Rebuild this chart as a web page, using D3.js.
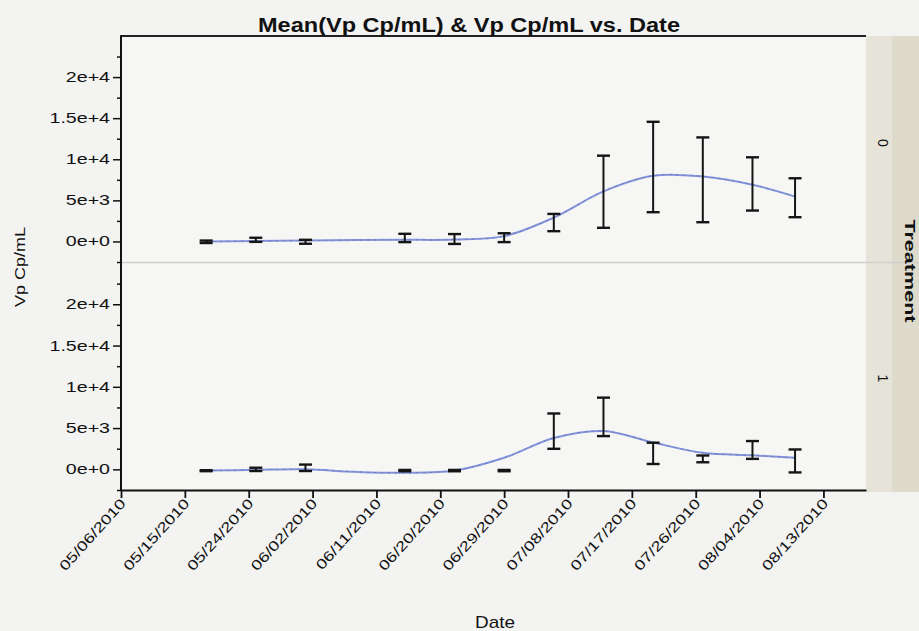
<!DOCTYPE html>
<html>
<head>
<meta charset="utf-8">
<script src="https://cdn.jsdelivr.net/npm/d3@7/dist/d3.min.js"></script>
<style>
  body { margin: 0; background: #f3f3f1; }
  text { font-family: "Liberation Sans", Arial, Helvetica, sans-serif; fill: #111; }
</style>
</head>
<body>
<svg id="chart" width="919" height="631"></svg>
<script>
// Sampling dates (weekly visits)
const sampleDates = ["2010-05-18", "2010-05-25", "2010-06-01", "2010-06-15", "2010-06-22", "2010-06-29",
                     "2010-07-06", "2010-07-13", "2010-07-20", "2010-07-27", "2010-08-03", "2010-08-09"];

// Treatment 0: mean Vp Cp/mL and error half-width
const mean0 = [-40, 200, -40, 425, 300, 460, 2300, 6050, 9060, 7500, 7000, 5320];
const err0  = [150, 250, 240, 505, 600, 540, 1050, 4390, 5500, 5160, 3240, 2370];

// Treatment 1: mean Vp Cp/mL and error half-width
const mean1 = [-160, 0, 190, -150, -150, -150, 4630, 6360, 1940, 1270, 2350, 1020];
const err1  = [60, 200, 390, 80, 80, 80, 2140, 2330, 1290, 410, 1080, 1390];

// Smoother fitted through the raw values, read at weekly knots
const smoothDates = ["2010-05-18", "2010-05-25", "2010-06-01", "2010-06-08", "2010-06-15", "2010-06-22", "2010-06-29",
                     "2010-07-06", "2010-07-13", "2010-07-20", "2010-07-27", "2010-08-03", "2010-08-09"];
const smooth0 = [0, 60, 120, 170, 200, 230, 650, 2900, 6100, 8000, 7900, 6900, 5450];
const smooth1 = [-150, -60, 0, -300, -420, -150, 1400, 3800, 4650, 3250, 2000, 1700, 1400];

// Axis ticks
const xTickDates = ["2010-05-06", "2010-05-15", "2010-05-24", "2010-06-02", "2010-06-11", "2010-06-20",
                    "2010-06-29", "2010-07-08", "2010-07-17", "2010-07-26", "2010-08-04", "2010-08-13"];
const yMajorTicks = [0, 5000, 10000, 15000, 20000];
const yTickLabels = ["0e+0", "5e+3", "1e+4", "1.5e+4", "2e+4"];
const yMinorTicks = [-2500, 2500, 7500, 12500, 17500, 22500];
const panelLabels = ["0", "1"];

const parse = d3.timeParse("%Y-%m-%d");
const fmt = d3.timeFormat("%m/%d/%Y");

const svg = d3.select("#chart");
const W = 919, H = 631;
const plotL = 121, plotR = 866, plotT = 36, plotB = 490;
const panels = [
  { top: 36, bottom: 262, mean: mean0, err: err0, smooth: smooth0, label: panelLabels[0] },
  { top: 263, bottom: 490, mean: mean1, err: err1, smooth: smooth1, label: panelLabels[1] }
];

// stretch a text selection along its baseline
function stretch(sel, factor) {
  sel.each(function () {
    const w = this.getComputedTextLength();
    d3.select(this).attr("textLength", w * factor).attr("lengthAdjust", "spacingAndGlyphs");
  });
}

svg.append("rect").attr("width", W).attr("height", H).attr("fill", "#f3f3f1");
svg.append("rect").attr("x", plotL).attr("y", plotT).attr("width", plotR - plotL).attr("height", plotB - plotT)
  .attr("fill", "#f6f6f4");

// Treatment strip on the right
svg.append("rect").attr("x", plotR).attr("y", plotT).attr("width", W - plotR).attr("height", plotB - plotT + 2)
  .attr("fill", "#dedbcc");
svg.append("rect").attr("x", plotR).attr("y", plotT).attr("width", 26).attr("height", plotB - plotT + 2)
  .attr("fill", "#e6e4d9");

const x = d3.scaleTime()
  .domain([parse("2010-05-06"), parse("2010-08-19")])
  .range([plotL, plotR]);

// panel separator
svg.append("line").attr("x1", plotL).attr("x2", W).attr("y1", 262.5).attr("y2", 262.5)
  .attr("stroke", "#cfcfcb").attr("stroke-width", 1.5);

panels.forEach(p => {
  const y = d3.scaleLinear().domain([-2500, 25000]).range([p.bottom, p.top]);
  const g = svg.append("g");

  // smoother
  const pts = smoothDates.map((d, i) => [x(parse(d)), y(p.smooth[i])]);
  const line = d3.line().curve(d3.curveCatmullRom.alpha(0.5));
  g.append("path").attr("d", line(pts)).attr("fill", "none")
    .attr("stroke", "#8494da").attr("stroke-width", 2);
  g.append("path").attr("d", line(pts)).attr("fill", "none")
    .attr("stroke", "#5162a8").attr("stroke-width", 1).attr("stroke-dasharray", "2,5").attr("opacity", 0.55);

  // error bars
  const bars = g.selectAll("g.bar").data(sampleDates.map((d, i) => ({ date: parse(d), m: p.mean[i], e: p.err[i] })))
    .join("g").attr("class", "bar");
  bars.append("line")
    .attr("x1", d => x(d.date)).attr("x2", d => x(d.date))
    .attr("y1", d => y(d.m - d.e)).attr("y2", d => y(d.m + d.e))
    .attr("stroke", "#151515").attr("stroke-width", 2);
  [-1, 1].forEach(s => {
    bars.append("line")
      .attr("x1", d => x(d.date) - 6.5).attr("x2", d => x(d.date) + 6.5)
      .attr("y1", d => y(d.m + s * d.e)).attr("y2", d => y(d.m + s * d.e))
      .attr("stroke", "#151515").attr("stroke-width", 2.4);
  });

  // y axis: major + minor ticks
  const ax = svg.append("g").attr("transform", `translate(${plotL},0)`)
    .call(d3.axisLeft(y).tickValues(yMajorTicks).tickSize(8).tickPadding(3)
      .tickFormat((d, i) => yTickLabels[i]));
  ax.select(".domain").remove();
  ax.selectAll(".tick line").attr("stroke", "#111").attr("stroke-width", 1.5);
  ax.selectAll(".tick text").attr("font-size", 14).attr("fill", "#111")
    .attr("font-family", "'Liberation Sans', Arial, sans-serif");
  stretch(ax.selectAll(".tick text"), 1.4);

  const mx = svg.append("g").attr("transform", `translate(${plotL},0)`)
    .call(d3.axisLeft(y).tickValues(yMinorTicks).tickSize(4).tickFormat(""));
  mx.select(".domain").remove();
  mx.selectAll(".tick line").attr("stroke", "#111").attr("stroke-width", 1.5);

  // strip label
  const cy = (p.top + p.bottom) / 2 + (p === panels[0] ? -6 : 2);
  svg.append("text").attr("transform", `translate(878,${cy}) rotate(90)`)
    .attr("text-anchor", "middle").attr("font-size", 14).text(p.label);
});

// frame lines
svg.append("line").attr("x1", plotL - 1).attr("x2", plotR).attr("y1", plotT).attr("y2", plotT)
  .attr("stroke", "#222").attr("stroke-width", 2);
svg.append("line").attr("x1", plotL).attr("x2", plotL).attr("y1", plotT).attr("y2", plotB + 1)
  .attr("stroke", "#111").attr("stroke-width", 2);

// x axis
const xa = svg.append("g").attr("transform", `translate(0,${plotB})`)
  .call(d3.axisBottom(x).tickValues(xTickDates.map(parse)).tickSize(8).tickSizeOuter(0).tickFormat(fmt));
xa.select(".domain").attr("stroke", "#111").attr("stroke-width", 2);
xa.selectAll(".tick line").attr("stroke", "#111").attr("stroke-width", 1.8);
xa.selectAll(".tick text")
  .attr("font-size", 14).attr("fill", "#111")
  .attr("font-family", "'Liberation Sans', Arial, sans-serif")
  .attr("text-anchor", "end").attr("x", 0).attr("y", 0).attr("dy", 0)
  .attr("transform", "translate(5,14) rotate(-48)");
stretch(xa.selectAll(".tick text"), 1.3);

// titles
svg.append("text").attr("x", 469).attr("y", 32).attr("text-anchor", "middle")
  .attr("font-size", 20).attr("font-weight", "bold")
  .attr("textLength", 422).attr("lengthAdjust", "spacingAndGlyphs")
  .text("Mean(Vp Cp/mL) & Vp Cp/mL vs. Date");

svg.append("text").attr("transform", "translate(25,267) rotate(-90)").attr("text-anchor", "middle")
  .attr("font-size", 14).attr("textLength", 80).attr("lengthAdjust", "spacingAndGlyphs")
  .text("Vp Cp/mL");

svg.append("text").attr("x", 495).attr("y", 628).attr("text-anchor", "middle")
  .attr("font-size", 17).attr("textLength", 40).attr("lengthAdjust", "spacingAndGlyphs")
  .text("Date");

svg.append("text").attr("transform", "translate(905,271) rotate(90)").attr("text-anchor", "middle")
  .attr("font-size", 14).attr("font-weight", "bold")
  .attr("textLength", 103).attr("lengthAdjust", "spacingAndGlyphs")
  .text("Treatment");
</script>
</body>
</html>
